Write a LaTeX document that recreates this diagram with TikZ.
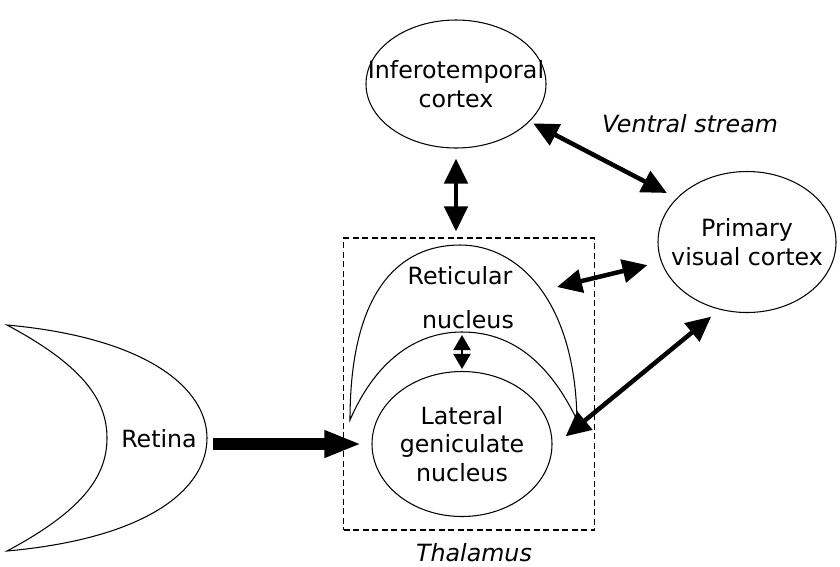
\documentclass[tikz,border=0pt]{standalone}
\usepackage{fontspec}
\setmainfont{DejaVu Sans}
\usepackage{tikz}
\usetikzlibrary{shapes.geometric,arrows.meta,positioning}

\begin{document}
\begin{tikzpicture}[x=0.2mm, y=-0.2mm,
    font=\fontsize{13.5}{16.2}\selectfont,
    area/.style={draw, ellipse, line width=0.6pt, inner sep=0pt},
    twoway/.style={line width=0.9mm,
      {Triangle[length=5mm,width=4.6mm]}-{Triangle[length=5mm,width=4.6mm]}},
    ]
  \useasboundingbox (0,0) rectangle (840,566);

  % brain areas
  \node[area, minimum width=36mm, minimum height=25.6mm,
        label={[align=center]center:Inferotemporal\\cortex}] (it) at (456,84) {};
  \node[area, minimum width=35.6mm, minimum height=28.2mm,
        label={[align=center]center:Primary\\visual cortex}] (v1) at (747,242) {};
  \node[area, minimum width=36mm, minimum height=29mm,
        label={[align=center]center:Lateral\\geniculate\\nucleus}] (lgn) at (462,444) {};

  % thalamus box
  \node[draw, line width=0.6pt, dash pattern=on 1.2mm off 0.7mm,
        minimum width=50.2mm, minimum height=58.4mm] (thal) at (469,384) {};
  \node[below=1.4mm of thal, xshift=1mm] (thallabel) {\itshape Thalamus};

  % reticular nucleus
  \draw[line width=0.6pt] (350,420) .. controls (350,290) and (400,245) .. (460,245)
    .. controls (518,245) and (575,300) .. (577,420)
    .. controls (548,360) and (510,332) .. (462,332)
    .. controls (415,332) and (375,362) .. cycle;
  \node (retic) at (460,276) {Reticular};
  \node (reticnuc) at (468,320) {nucleus};
  \coordinate (reticin) at (462,332);
  \coordinate (reticout) at (557,287);

  % retina
  \draw[line width=0.6pt] (7,325) .. controls (150,338) and (207,390) .. (207,438)
    .. controls (207,488) and (150,538) .. (7,551)
    .. controls (80,512) and (107,478) .. (107,438)
    .. controls (107,398) and (80,364) .. cycle;
  \node (retina) at (159,439) {Retina};

  \node (ventral) at (690,124) {\itshape Ventral stream};

  % connections
  \draw[line width=2.4mm, -{Triangle[length=7.4mm,width=5mm]},
        shorten <=2mm, shorten >=2mm] (retina.east |- lgn.west) -- (lgn.west);
  \draw[line width=0.4mm,
        {Triangle[length=3mm,width=3.4mm]}-{Triangle[length=3mm,width=3.4mm]},
        shorten <=0.6mm, shorten >=0.4mm] (reticin) -- (lgn.north);
  \draw[twoway, shorten <=2mm, shorten >=1.2mm] (it.south) -- (it.south |- thal.north);
  \draw[twoway, shorten <=0.8mm, shorten >=2.2mm] (it.-27) -- (v1.148);
  \draw[twoway, shorten >=2.8mm] (reticout) -- (v1.193);
  \draw[twoway, shorten <=3.4mm, shorten >=2.2mm] (lgn.-2) -- (v1.248);
\end{tikzpicture}
\end{document}
